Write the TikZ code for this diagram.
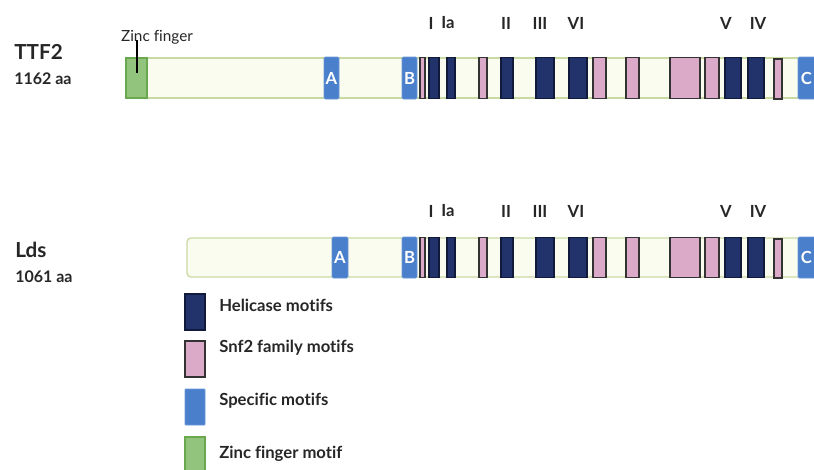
\documentclass[tikz,border=0pt]{standalone}
\usepackage{fontspec}
\setmainfont{Lato}[Ligatures=NoCommon]
\definecolor{navy}{HTML}{22336B}
\definecolor{navyd}{HTML}{111A3A}
\definecolor{pinkm}{HTML}{DBAAC9}
\definecolor{bluem}{HTML}{4A7FCC}
\definecolor{bluel}{HTML}{6A98D8}
\definecolor{greenm}{HTML}{93C47D}
\definecolor{greend}{HTML}{6AA84F}
\definecolor{barfill}{HTML}{FAFCF0}
\definecolor{barline}{HTML}{C9D9A2}
\definecolor{txt}{HTML}{262626}
\tikzset{
  bar/.style={draw=barline, fill=barfill, line width=1pt},
  helic/.style={draw=navyd, fill=navy, line width=0.9pt},
  snf/.style={draw=black!80, fill=pinkm, line width=0.9pt},
  spec/.style={draw=bluel, fill=bluem, line width=0.6pt, rounded corners=1pt},
  zinc/.style={draw=greend, fill=greenm, line width=0.8pt},
  speclbl/.style={text=white, font=\bfseries\fontsize{12.5}{14}\selectfont, inner sep=0pt},
  roman/.style={text=txt, font=\bfseries\fontsize{12.5}{14}\selectfont, inner sep=0pt},
  protname/.style={text=txt, font=\bfseries\fontsize{15.5}{18}\selectfont, anchor=west, inner sep=0pt},
  protlen/.style={text=txt, font=\bfseries\fontsize{12}{14}\selectfont, anchor=west, inner sep=0pt},
  legtxt/.style={text=txt, font=\bfseries\fontsize{12.5}{14}\selectfont, anchor=west, inner sep=0pt},
}
\begin{document}
\begin{tikzpicture}[x=0.75pt,y=-0.75pt]
\useasboundingbox (0,0) rectangle (814,469);
% ---------- TTF2 ----------
\node[protname] (ttf2) at (14,52) {TTF2};
\node[protlen] (ttf2len) at (14,79) {1162 aa};
\path[bar] (126,58) rectangle (840,98);
\path[zinc] (126,58) rectangle (147,98);
\node[text=txt, font=\fontsize{11.5}{13}\selectfont, inner sep=0pt] (zf) at (157,37) {Zinc finger};
\coordinate (zfend) at (137,73);
\draw[line width=1pt, black] (137,40) -- (zfend);
% ---------- Lds ----------
\node[protname] (lds) at (15,250) {Lds};
\node[protlen] (ldslen) at (15,277) {1061 aa};
\path[bar, rounded corners=3pt] (187,238) rectangle (840,277);
% ---------- motifs on both rows ----------
\foreach \ya/\yb/\yl/\ax/\bx/\r in {57/99/23/324/339/t, 237/278/211/332/348/l}{
  \path[spec] (\ax,\ya) rectangle (\bx,\yb);
  \node[speclbl] (A\r) at ({(\ax+\bx)/2},{(\ya+\yb)/2}) {A};
  \path[spec] (402,\ya) rectangle (417,\yb);
  \node[speclbl] (B\r) at (409.5,{(\ya+\yb)/2}) {B};
  \path[spec] (798,\ya) rectangle (830,\yb);
  \node[speclbl] (C\r) at (806.5,{(\ya+\yb)/2}) {C};
  \foreach \xa/\xb in {420/425, 479/487, 593/606, 626/639, 670/700, 705/719}
    \path[snf] (\xa,\ya+0.5) rectangle (\xb,\yb-0.5);
  \path[snf] (774,\ya+2) rectangle (782,\yb);
  \foreach \xa/\xb in {429/439, 447/455, 501/513, 536/554, 569/587, 725/741, 748/764}
    \path[helic] (\xa,\ya+0.5) rectangle (\xb,\yb-0.5);
  \node[roman] (I\r) at (431,\yl) {I};
  \node[roman] (Ia\r) at (448,\yl) {Ia};
  \node[roman] (II\r) at (506,\yl) {II};
  \node[roman] (III\r) at (540,\yl) {III};
  \node[roman] (VI\r) at (576,\yl) {VI};
  \node[roman] (V\r) at (726,\yl) {V};
  \node[roman] (IV\r) at (758,\yl) {IV};
}
% ---------- legend ----------
\path[helic] (185,294) rectangle (205,330);
\node[legtxt] (l1) at (219,305) {Helicase motifs};
\path[snf] (185,341) rectangle (205,377);
\node[legtxt] (l2) at (219,348) {Snf2 family motifs};
\path[spec, rounded corners=0.5pt] (185,389) rectangle (205,425);
\node[legtxt] (l3) at (219,401) {Specific motifs};
\path[zinc] (185,437) rectangle (205,475);
\node[legtxt] (l4) at (219,454) {Zinc finger motif};
\end{tikzpicture}
\end{document}
